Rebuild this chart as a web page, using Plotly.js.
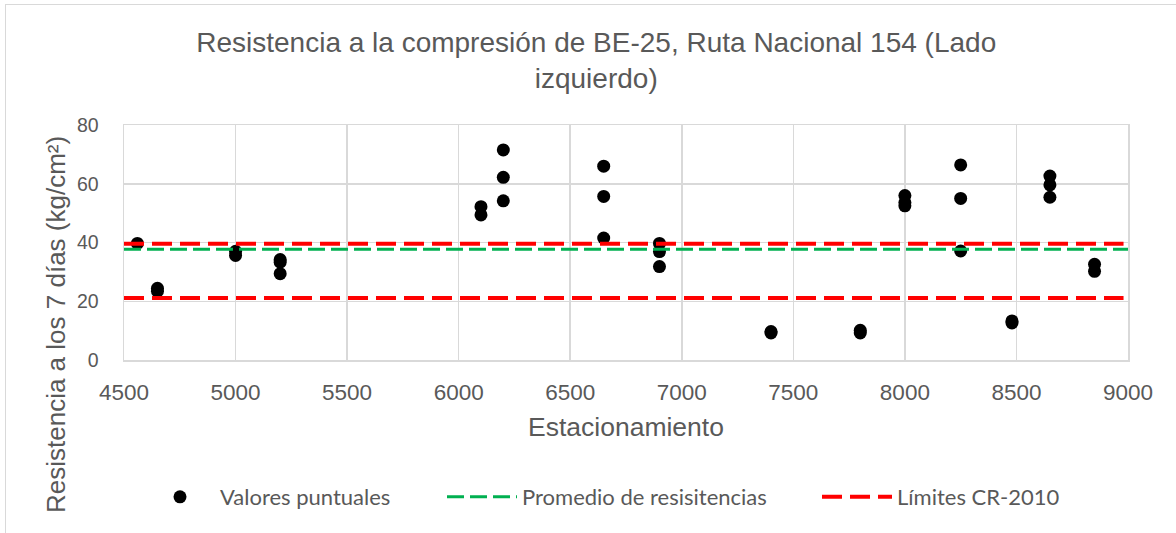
<!DOCTYPE html>
<html>
<head>
<meta charset="utf-8">
<script src="https://cdn.plot.ly/plotly-3.0.1.min.js"></script>
<style>
  html, body { margin: 0; padding: 0; background: #ffffff; }
  #wrap { position: relative; width: 1176px; height: 533px; overflow: hidden; }
  #chart { position: absolute; left: 0; top: 0; width: 1176px; height: 533px; }
  #frame { position: absolute; left: 5px; top: 4px; right: -2px; bottom: -2px;
           border-left: 1px solid #d9d9d9; border-top: 1px solid #d9d9d9; pointer-events: none; }
</style>
</head>
<body>
<div id="wrap">
  <div id="chart"></div>
  <div id="frame"></div>
</div>
<script>
// Estacionamiento (station) of each measured point
const estaciones = [
  4560,
  4650, 4650,
  5000, 5000,
  5200, 5200, 5200,
  6100, 6100,
  6200, 6200, 6200,
  6650, 6650, 6650,
  6900, 6900, 6900,
  7400, 7400,
  7800, 7800,
  8000, 8000, 8000,
  8250, 8250, 8250,
  8480, 8480,
  8650, 8650, 8650,
  8850, 8850
];
// Resistencia a los 7 días (kg/cm²)
const resistencias = [
  39.7,
  24.4, 23.4,
  37.0, 35.6,
  34.2, 33.3, 29.4,
  52.2, 49.4,
  71.5, 62.2, 54.2,
  66.0, 55.7, 41.5,
  39.7, 36.9, 31.8,
  9.7, 9.2,
  10.1, 9.2,
  56.0, 53.6, 52.5,
  66.4, 55.0, 37.1,
  13.3, 12.6,
  62.6, 59.6, 55.4,
  32.6, 30.2
];
// Promedio de resistencias
const promedioX = [4500, 9000];
const promedioY = [37.7, 37.7];
// Límites CR-2010 (superior e inferior)
const limiteSup = 39.6;
const limiteInf = 21.1;
const limitesX = [4500, 8980, null, 4500, 8980];
const limitesY = [limiteSup, limiteSup, null, limiteInf, limiteInf];

const xTicks = [4500, 5000, 5500, 6000, 6500, 7000, 7500, 8000, 8500, 9000];
const yTicks = [0, 20, 40, 60, 80];

const titulo = 'Resistencia a la compresión de BE-25, Ruta Nacional 154 (Lado<br>izquierdo)';
const tituloX = 'Estacionamiento';
const tituloY = 'Resistencia a los 7 días (kg/cm²)';
const nombres = ['Valores puntuales', 'Promedio de resisitencias', 'Límites CR-2010'];

const gray = '#595959';
const grid = '#d9d9d9';
const axisFont = 'Liberation Sans, Arial, sans-serif';
const legendFont = { family: 'Lato, Carlito, Calibri, sans-serif', size: 22, color: gray };

const traces = [
  {
    type: 'scatter', mode: 'markers', name: nombres[0], legend: 'legend',
    x: estaciones, y: resistencias,
    marker: { color: '#000000', size: 13, line: { width: 0 } },
    cliponaxis: false
  },
  {
    type: 'scatter', mode: 'lines', name: nombres[1], legend: 'legend2',
    x: promedioX, y: promedioY,
    line: { color: '#00b050', width: 3, dash: '17px,6px' }
  },
  {
    type: 'scatter', mode: 'lines', name: nombres[2], legend: 'legend3',
    x: limitesX, y: limitesY, connectgaps: false,
    line: { color: '#ff0000', width: 4, dash: '20px,8px' }
  }
];

function legendAt(px) {
  return {
    orientation: 'h',
    xref: 'container', x: px / 1176, xanchor: 'left',
    yref: 'container', y: 1 - 497 / 533, yanchor: 'middle',
    font: legendFont, itemwidth: 70,
    bgcolor: 'rgba(0,0,0,0)', borderwidth: 0
  };
}

const layout = {
  width: 1176, height: 533,
  margin: { l: 124, r: 48, t: 125, b: 173 },
  paper_bgcolor: '#ffffff', plot_bgcolor: '#ffffff',
  showlegend: true,
  title: {
    text: titulo,
    font: { family: axisFont, size: 28, color: gray },
    x: 0.507, xref: 'container', xanchor: 'center',
    y: 1 - 52 / 533, yref: 'container', yanchor: 'top'
  },
  xaxis: {
    range: [4500, 9000], tickvals: xTicks, ticktext: xTicks.map(String),
    showgrid: true, gridcolor: grid, gridwidth: 1.5,
    showline: true, linecolor: grid, linewidth: 1.5, mirror: true,
    zeroline: false, ticks: '',
    ticklabelstandoff: 11,
    tickfont: { family: axisFont, size: 22.5, color: gray },
    title: { text: tituloX, font: { family: axisFont, size: 26.5, color: gray }, standoff: 14 },
    automargin: false
  },
  yaxis: {
    range: [0, 80], tickvals: yTicks, ticktext: yTicks.map(String),
    showgrid: true, gridcolor: grid, gridwidth: 1.5,
    showline: true, linecolor: grid, linewidth: 1.5, mirror: true,
    zeroline: false, ticks: '',
    ticklabelstandoff: 20,
    tickfont: { family: axisFont, size: 19.5, color: gray },
    automargin: false
  },
  annotations: [{
    text: tituloY, textangle: -90, showarrow: false,
    xref: 'paper', x: (56 - 124) / 1004, xanchor: 'center',
    yref: 'paper', y: (360 - 325) / 235, yanchor: 'middle',
    font: { family: axisFont, size: 26, color: gray }
  }],
  legend: legendAt(140),
  legend2: legendAt(442),
  legend3: legendAt(817)
};

Plotly.newPlot('chart', traces, layout, { staticPlot: true, displayModeBar: false });
</script>
</body>
</html>
